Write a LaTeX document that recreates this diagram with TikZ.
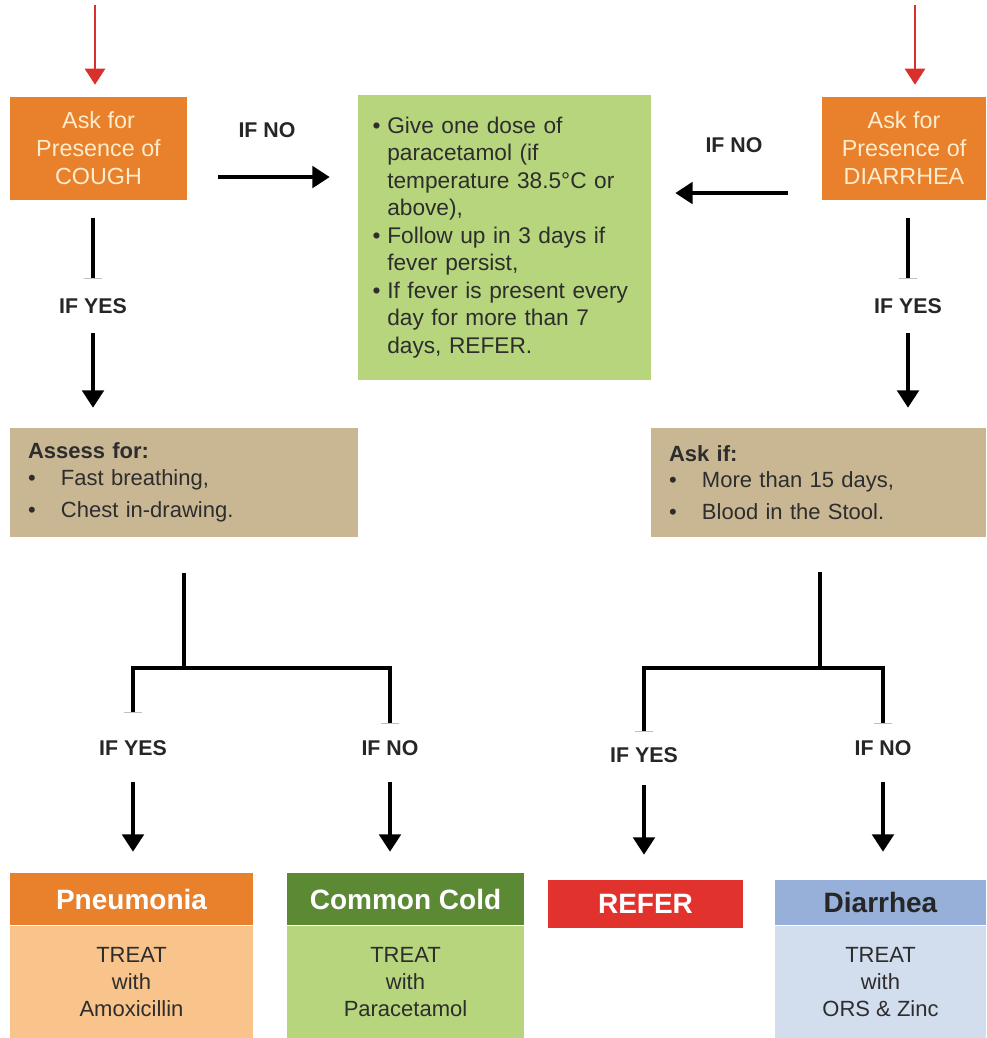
\documentclass[tikz,border=0pt]{standalone}
\usepackage{fontspec}
\setmainfont{Liberation Sans}
\usetikzlibrary{arrows.meta}
\definecolor{askorange}{RGB}{232,128,44}
\definecolor{askcream}{RGB}{253,236,205}
\definecolor{fevergreen}{RGB}{182,213,124}
\definecolor{assesstan}{RGB}{201,183,147}
\definecolor{pneulight}{RGB}{249,195,140}
\definecolor{colddark}{RGB}{92,138,52}
\definecolor{referred}{RGB}{226,50,46}
\definecolor{diarblue}{RGB}{150,176,217}
\definecolor{diarlight}{RGB}{210,221,238}
\definecolor{arrowred}{RGB}{217,48,44}
\definecolor{notegray}{RGB}{45,45,45}
\tikzstyle{askbox} = [fill=askorange, text=askcream, align=center, minimum height=77.25pt, inner sep=0pt, font=\fontsize{17.5}{21}\selectfont]
\tikzstyle{iflabel} = [font=\bfseries\fontsize{16}{19}\selectfont, text=black!85]
\tikzstyle{flow} = [line width=3pt, -{Triangle[width=16pt,length=13pt]}]
\tikzstyle{stemline} = [line width=3pt]
\tikzstyle{branch} = [line width=3pt, -{Bar[width=14pt,line width=0.6pt,color=gray!50]}]
\tikzstyle{redflow} = [line width=1.8pt, arrowred, -{Triangle[width=15pt,length=12pt]}]
\tikzstyle{listbox} = [fill=assesstan, align=left, minimum height=81.75pt, inner xsep=13.5pt, text=notegray, font=\fontsize{16.5}{20}\selectfont]
\tikzstyle{resulthead} = [minimum height=39pt, inner sep=0pt, font=\bfseries\fontsize{21}{25}\selectfont]
\tikzstyle{resultbody} = [anchor=north, minimum height=84.75pt, inner sep=0pt, align=center, text=notegray, font=\fontsize{16.5}{20}\selectfont]

\begin{document}
\begin{tikzpicture}[x=0.75pt,y=-0.75pt]
\useasboundingbox (0,0) rectangle (986,1038);

\node[askbox, minimum width=132.75pt] (cough) at (98.5,148.5) {Ask for\\Presence of\\COUGH};
\node[askbox, minimum width=123pt] (diar) at (904,148.5) {Ask for\\Presence of\\DIARRHEA};
\node[fill=fevergreen, text=notegray, align=left, text width=197.75pt, inner xsep=11pt, minimum height=213.75pt, font=\fontsize{17}{20.6}\selectfont] (fever) at (504.5,237.5)
  {\makebox[11pt][l]{\textbullet}Give one dose of\\
   \hspace*{11pt}paracetamol (if\\
   \hspace*{11pt}temperature 38.5°C or\\
   \hspace*{11pt}above),\\
   \makebox[11pt][l]{\textbullet}Follow up in 3 days if\\
   \hspace*{11pt}fever persist,\\
   \makebox[11pt][l]{\textbullet}If fever is present every\\
   \hspace*{11pt}day for more than 7\\
   \hspace*{11pt}days, REFER.};
\node[listbox, text width=234pt] (assess) at (184,482.5)
  {\textbf{Assess for:}\\
   \makebox[24.75pt][l]{\textbullet}Fast breathing,\\[4pt]
   \makebox[24.75pt][l]{\textbullet}Chest in-drawing.};
\node[listbox, text width=224.25pt] (askif) at (818.5,482.5)
  {\textbf{Ask if:}\\
   \makebox[24.75pt][l]{\textbullet}More than 15 days,\\[4pt]
   \makebox[24.75pt][l]{\textbullet}Blood in the Stool.};

\node[iflabel] (nocough) at (267,130) {IF NO};
\node[iflabel] (nodiar) at (734,145) {IF NO};
\node[iflabel] (yesc) at (93,306) {IF YES};
\node[iflabel] (yesd) at (908,306) {IF YES};
\node[iflabel] (yes1) at (133,748) {IF YES};
\node[iflabel] (no1) at (390,748) {IF NO};
\node[iflabel] (yes2) at (644,755) {IF YES};
\node[iflabel] (no2) at (883,748) {IF NO};

\node[resulthead, fill=askorange, text=white, minimum width=182.25pt] (pneuh) at (131.5,899) {Pneumonia};
\node[resultbody, fill=pneulight, minimum width=182.25pt] (pneub) at (pneuh.south) {TREAT\\with\\Amoxicillin};
\node[resulthead, fill=colddark, text=white, minimum width=177.75pt] (coldh) at (405.5,899) {Common Cold};
\node[resultbody, fill=fevergreen, minimum width=177.75pt] (coldb) at (coldh.south) {TREAT\\with\\Paracetamol};
\node[resulthead, fill=referred, text=white, minimum width=146.25pt, minimum height=36pt] (refer) at (645.5,904) {REFER};
\node[resulthead, fill=diarblue, text=black!85, minimum width=158.25pt, minimum height=33.75pt] (diarh) at (880.5,902.5) {Diarrhea};
\node[resultbody, fill=diarlight, minimum width=158.25pt] (diarb) at (diarh.south) {TREAT\\with\\ORS \& Zinc};

\coordinate (startc) at (95,5);
\coordinate (startd) at (915,5);
\coordinate (jc) at (184,668);
\coordinate (jcl) at (133,668);
\coordinate (jcr) at (390,668);
\coordinate (jd) at (820,668);
\coordinate (jdl) at (644,668);
\coordinate (jdr) at (883,668);

\draw[redflow, shorten >=9pt] (startc) -- (startc |- cough.north);
\draw[redflow, shorten >=9pt] (startd) -- (startd |- diar.north);
\draw[flow, shorten <=23.25pt, shorten >=21pt] ([yshift=-21.4pt]cough.east) -- ([yshift=-21.4pt]cough.east -| fever.west);
\draw[flow, shorten <=25.5pt, shorten >=18pt] ([yshift=-33.4pt]diar.west) -- ([yshift=-33.4pt]diar.west -| fever.east);
\draw[branch, shorten <=13.5pt, shorten >=11pt] (yesc |- cough.south) -- (yesc);
\draw[branch, shorten <=13.5pt, shorten >=11pt] (yesd |- diar.south) -- (yesd);
\draw[flow, shorten <=11pt, shorten >=15pt] (yesc) -- (yesc |- assess.north);
\draw[flow, shorten <=11pt, shorten >=15pt] (yesd) -- (yesd |- askif.north);

\draw[stemline, shorten <=27pt] (jc |- assess.south) -- (jc);
\draw[branch, shorten >=17pt] (jc) -- (jcl) -- (yes1);
\draw[branch, shorten >=8.75pt] (jc) -- (jcr) -- (no1);
\draw[stemline, shorten <=26.25pt] (jd |- askif.south) -- (jd);
\draw[branch, shorten >=8pt] (jd) -- (jdl) -- (yes2);
\draw[branch, shorten >=8.75pt] (jd) -- (jdr) -- (no2);

\draw[flow, shorten <=16pt, shorten >=15.75pt] (yes1) -- (yes1 |- pneuh.north);
\draw[flow, shorten <=16pt, shorten >=15.75pt] (no1) -- (no1 |- coldh.north);
\draw[flow, shorten <=13pt, shorten >=18.75pt] (yes2) -- (yes2 |- refer.north);
\draw[flow, shorten <=16pt, shorten >=21pt] (no2) -- (no2 |- diarh.north);
\end{tikzpicture}
\end{document}
